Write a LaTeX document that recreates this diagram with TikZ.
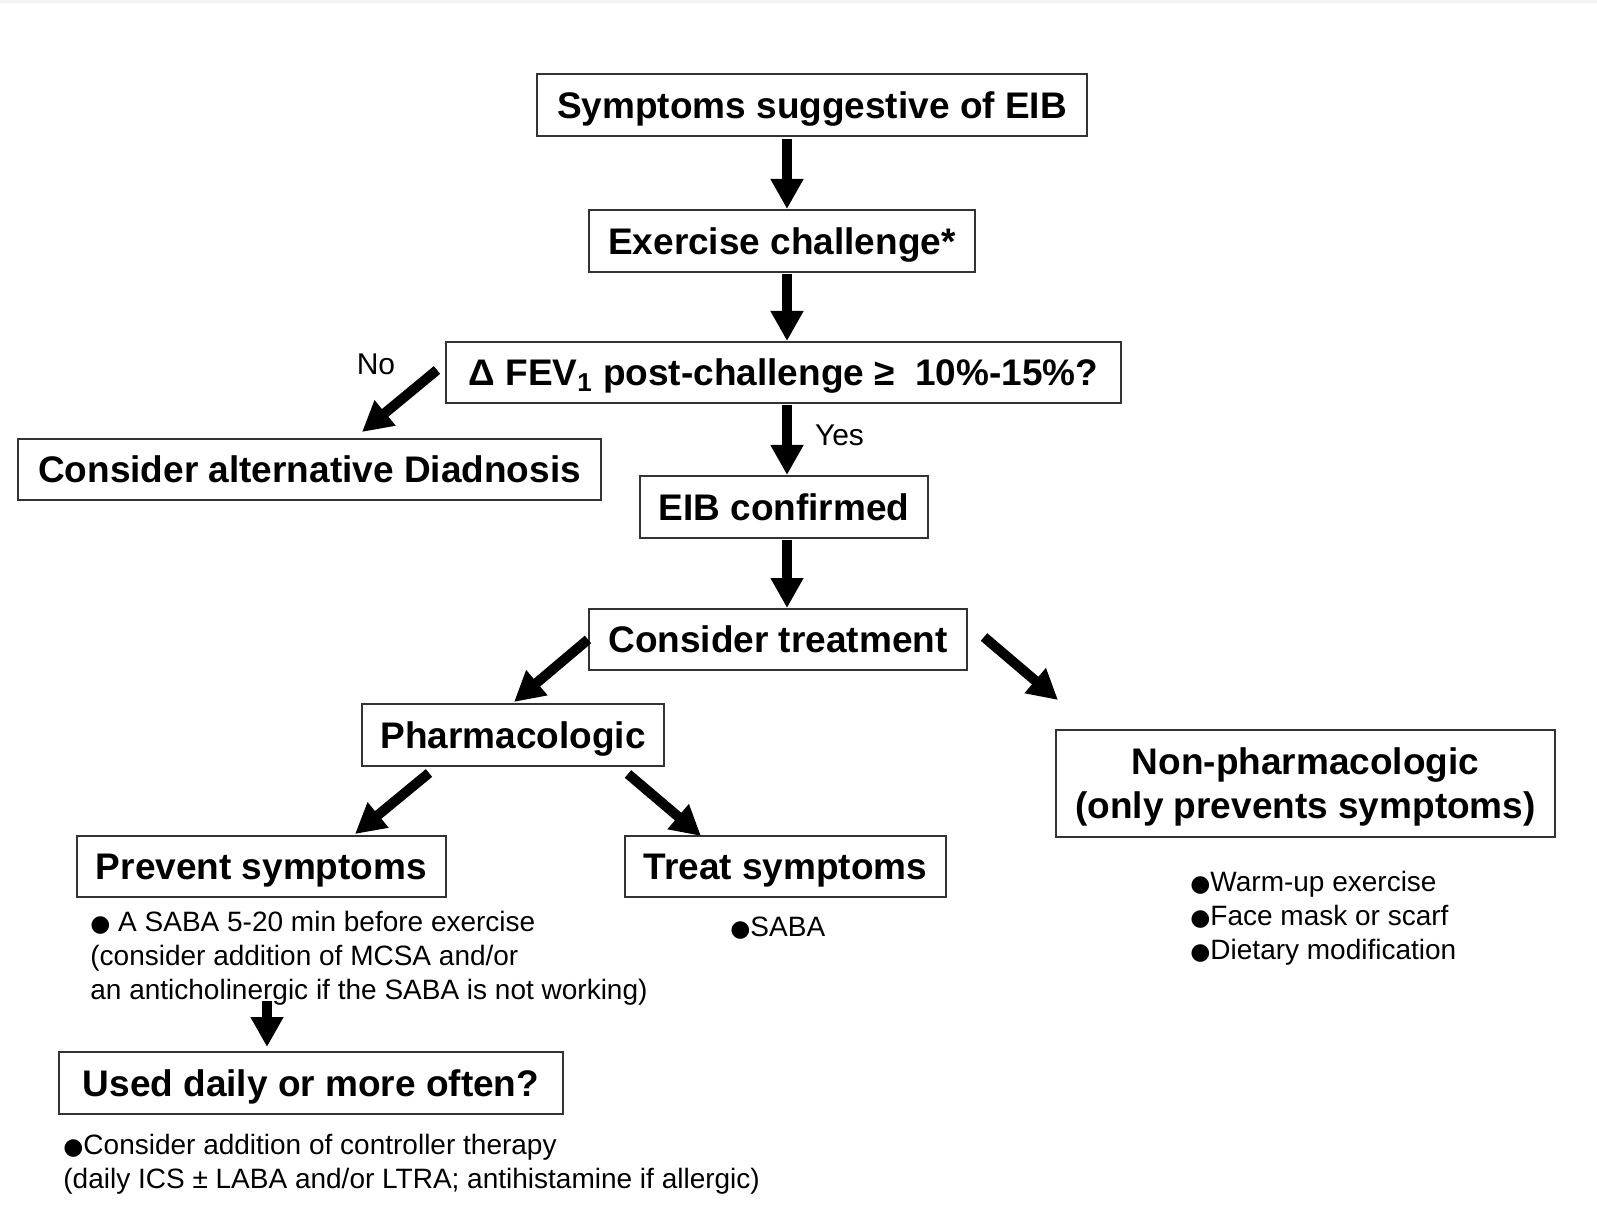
\documentclass[tikz,border=0pt]{standalone}
\usepackage{fontspec}
\setmainfont{Liberation Sans}
\newfontfamily\djv{DejaVu Sans}
\usetikzlibrary{arrows.meta,calc}
\newcommand\bul{{\djv\fontsize{11.5}{11.5}\selectfont ●}}
\begin{document}
\begin{tikzpicture}[x=0.5pt,y=-0.5pt,
  box/.style={draw=black!80,line width=1pt,inner sep=0pt,align=center,text depth=0pt,
    font=\bfseries\fontsize{18.5}{22}\selectfont},
  arr/.style={line width=5pt,-{Triangle[width=15.5pt,length=15pt]}},
  note/.style={inner sep=0pt,align=left,anchor=west,font=\fontsize{14}{16.9}\selectfont},
  lbl/.style={inner sep=0pt,font=\fontsize{15}{18}\selectfont}]
\useasboundingbox (0,0) rectangle (1597,1214);
\fill[black!5] (0,0) rectangle (1597,3);

% boxes
\node[box,minimum width=275pt,minimum height=31pt] (b1) at (812,105) {Symptoms suggestive of EIB};
\node[box,minimum width=193pt,minimum height=31pt] (b2) at (782,241) {Exercise challenge*};
\node[box,minimum width=337.5pt,minimum height=30.5pt] (b3) at (783.5,372.5) {Δ FEV\textsubscript{1} post-challenge ≥\ \ 10\%-15\%?};
\node[box,minimum width=291.5pt,minimum height=30.5pt] (b4) at (309.5,469.5) {Consider alternative Diadnosis};
\node[box,minimum width=144pt,minimum height=31pt] (b5) at (784,507) {EIB confirmed};
\node[box,minimum width=189pt,minimum height=30.5pt] (b6) at (778,639.5) {Consider treatment};
\node[box,minimum width=151pt,minimum height=31pt] (b7) at (513,735) {Pharmacologic};
\node[box,minimum width=249.5pt,minimum height=53.5pt] (b8) at (1305.5,783.5) {Non-pharmacologic\\(only prevents symptoms)};
\node[box,minimum width=184.5pt,minimum height=30.5pt] (b9) at (261.5,866.5) {Prevent symptoms};
\node[box,minimum width=160.5pt,minimum height=30.5pt] (b10) at (785.5,866.5) {Treat symptoms};
\node[box,minimum width=252pt,minimum height=31pt] (b11) at (311,1083) {Used daily or more often?};

% notes
\node[note] (n9) at (90,958.5) {\bul\ A SABA 5-20 min before exercise\\(consider addition of MCSA and/or\\an anticholinergic if the SABA is not working)};
\node[note] (n10) at (730,928) {\bul SABA};
\node[note] (n8) at (1190,918) {\bul Warm-up exercise\\\bul Face mask or scarf\\\bul Dietary modification};
\node[note] (n11) at (63,1164) {\bul Consider addition of controller therapy\\(daily ICS ± LABA and/or LTRA; antihistamine if allergic)};

% arrows
\draw[arr] ($(b1.south -| 787,0)+(0,2)$) -- (b2.north -| 787,0);
\draw[arr] ($(b2.south -| 787,0)+(0,1)$) -- (b3.north -| 787,0);
\draw[arr] ($(b3.south -| 787,0)+(0,1)$) -- node[lbl,anchor=west,xshift=11.5pt,yshift=2.5pt]{Yes} (b5.north -| 787,0);
\draw[arr] ($(b5.south -| 787,0)+(0,1)$) -- (b6.north -| 787,0);
\draw[arr] ($(b3.west)+(-8,-2.5)$) -- node[lbl,pos=0,xshift=-30.5pt,yshift=3pt]{No} ($(b4.north)+(52.5,-6)$);
\draw[arr] (b6.west) -- ($(b7.north)+(1,-1)$);
\draw[arr] ($(b6.east)+(16,-2.5)$) -- ($(b8.north west)+(3,-29)$);
\draw[arr] ($(b7.south west)+(68,6)$) -- ($(b9.north east)+(-92,-1)$);
\draw[arr] ($(b7.south east)+(-37,7)$) -- ($(b10.north west)+(77,1)$);
\draw[arr] ($(n9.south -| 267,0)+(0,-5)$) -- ($(b11.north -| 267,0)+(0,-4)$);
\end{tikzpicture}
\end{document}
